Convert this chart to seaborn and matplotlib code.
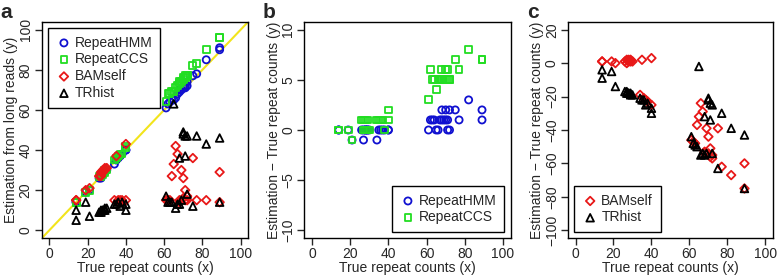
import numpy as np
import pandas as pd
import matplotlib
matplotlib.use("Agg")
import matplotlib.pyplot as plt
import seaborn as sns

# true repeat counts and (estimate - true) for each method
true_counts = [14, 14, 19, 21, 26, 27, 27, 28, 28, 29, 29, 30, 34, 35, 36, 37, 38, 40, 40,
               61, 62, 63, 64, 65, 66, 67, 68, 68, 69, 70, 70, 71, 71, 72, 72, 75, 77, 82, 89, 89]
diff_hmm = [0, 0, 0, -1, 0, -1, 0, 0, 0, 0, 0, 0, -1, 0, 0, 0, 0, 0, 0,
            0, 1, 1, 1, 0, 0, 1, 2, 1, 1, 1, 2, 0, 1, 0, 2, 2, 1, 3, 2, 1]
diff_ccs = [0, 0, 0, -1, 1, 1, 0, 1, 0, 0, 1, 0, 1, 1, 1, 1, 0, 2, 1,
            3, 6, 5, 5, 4, 5, 5, 6, 5, 5, 6, 5, 5, 6, 5, 5, 7, 6, 8, 7, 7]
diff_bam = [1, 1, 1, 0, 1, 0, 2, 1, 2, 1, 2, 1, -19, 2, -21, -22, -23, 3, -25,
            -46, -47, -48, -37, -32, -24, -29, -54, -53, -39, -54, -44, -56, -51, -57, -55, -39, -62, -67, -60, -75]
diff_trhist = [-4, -9, -5, -14, -17, -17, -18, -18, -18, -19, -18, -19, -21, -22, -22, -25, -24, -27, -30,
               -44, -48, -49, -50, -2, -55, -54, -32, -55, -54, -21, -22, -24, -34, -25, -54, -63, -30, -39, -43, -75]

methods = ["RepeatHMM", "RepeatCCS", "BAMself", "TRhist"]
diffs = {"RepeatHMM": diff_hmm, "RepeatCCS": diff_ccs, "BAMself": diff_bam, "TRhist": diff_trhist}
colors = {"RepeatHMM": "#1010d0", "RepeatCCS": "#22dd22", "BAMself": "#e81818", "TRhist": "black"}
marks = {"RepeatHMM": "o", "RepeatCCS": "s", "BAMself": "D", "TRhist": "^"}
sizes = {"RepeatHMM": 26, "RepeatCCS": 24, "BAMself": 19, "TRhist": 30}

rows = []
for m in methods:
    for t, d in zip(true_counts, diffs[m]):
        rows.append({"method": m, "true": t, "diff": d, "est": t + d})
df = pd.DataFrame(rows)

sns.set_style("ticks")
plt.rcParams["font.family"] = ["Liberation Sans", "DejaVu Sans"]
plt.rcParams["axes.linewidth"] = 1.0

fig = plt.figure(figsize=(7.78, 2.75), dpi=100)
ax_a = fig.add_axes([0.0536, 0.1335, 0.2656, 0.7877])
ax_b = fig.add_axes([0.3911, 0.1335, 0.2653, 0.7877])
ax_c = fig.add_axes([0.7300, 0.1335, 0.2635, 0.7877])

FS = 10


def draw(ax, meths, ycol):
    for m in meths:
        sub = df[df["method"] == m]
        sns.scatterplot(x=sub["true"], y=sub[ycol], ax=ax, marker=marks[m], s=sizes[m],
                        color=colors[m], facecolors="none", edgecolors=colors[m],
                        linewidth=1.3, label=m, zorder=3)


def style(ax, ylim, yticks, ylabel, letter):
    ax.set_xlim(-4, 104)
    ax.set_ylim(*ylim)
    ax.set_xticks([0, 20, 40, 60, 80, 100])
    ax.set_yticks(yticks)
    ax.tick_params(axis="both", labelsize=FS, length=5, width=1, pad=1.5)
    for lab in ax.get_yticklabels():
        lab.set_rotation(90)
        lab.set_va("center")
    ax.set_xlabel("True repeat counts (x)", fontsize=FS, labelpad=0)
    ax.set_ylabel(ylabel, fontsize=FS, labelpad=0.5)
    for sp in ax.spines.values():
        sp.set_visible(True)
        sp.set_color("black")
    ax.text(-0.2, 1.0, letter, transform=ax.transAxes, fontsize=15, fontweight="bold",
            va="bottom", ha="left")


def legend(ax, loc):
    leg = ax.legend(loc=loc, fontsize=FS, frameon=True, fancybox=False, framealpha=1,
                    edgecolor="black", borderpad=0.55, handletextpad=0.2, labelspacing=0.2,
                    handlelength=1.2, borderaxespad=0.45)
    leg.get_frame().set_linewidth(1.0)


# panel a
ax_a.axline((0, 0), (1, 1), color="#f2e41c", lw=1.5, zorder=2)
draw(ax_a, methods, "est")
style(ax_a, (-4, 104), [0, 20, 40, 60, 80, 100], "Estimation from long reads (y)", "a")
legend(ax_a, "upper left")

# panel b
draw(ax_b, ["RepeatHMM", "RepeatCCS"], "diff")
style(ax_b, (-10.8, 10.8), [-10, -5, 0, 5, 10], "Estimation \u2212 True repeat counts (y)", "b")
legend(ax_b, "lower right")

# panel c
draw(ax_c, ["BAMself", "TRhist"], "diff")
style(ax_c, (-104.8, 24.8), [-100, -80, -60, -40, -20, 0, 20], "Estimation \u2212 True repeat counts (y)", "c")
legend(ax_c, "lower left")

fig.savefig("out.png", dpi=100)
